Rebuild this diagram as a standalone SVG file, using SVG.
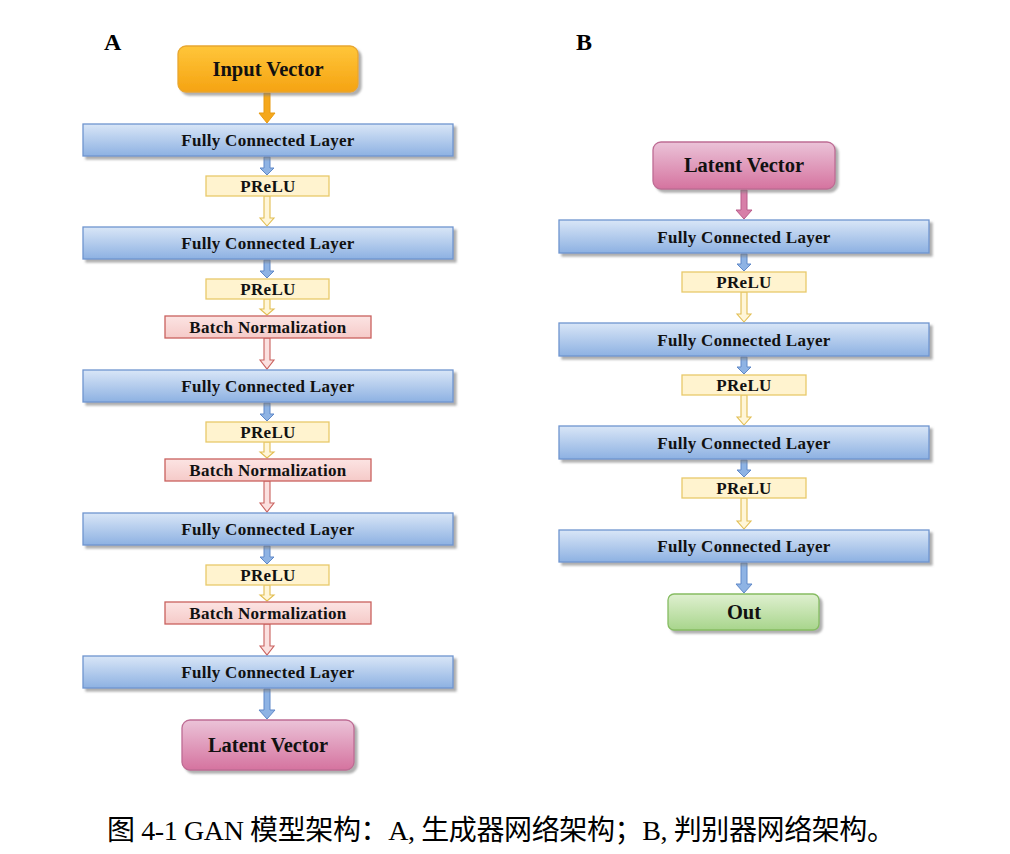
<svg xmlns="http://www.w3.org/2000/svg" width="1010" height="854" viewBox="0 0 1010 854">
<defs>
<linearGradient id="gBlue" x1="0" y1="0" x2="0" y2="1"><stop offset="0" stop-color="#D9E6F7"/><stop offset="1" stop-color="#8DB1E2"/></linearGradient>
<linearGradient id="gOrange" x1="0" y1="0" x2="0" y2="1"><stop offset="0" stop-color="#FFC63A"/><stop offset="1" stop-color="#F5A312"/></linearGradient>
<linearGradient id="gPink" x1="0" y1="0" x2="0" y2="1"><stop offset="0" stop-color="#EBC3D8"/><stop offset="1" stop-color="#D5739F"/></linearGradient>
<linearGradient id="gGreen" x1="0" y1="0" x2="0" y2="1"><stop offset="0" stop-color="#DFF0D0"/><stop offset="1" stop-color="#A8D58C"/></linearGradient>
<linearGradient id="gRed" x1="0" y1="0" x2="0" y2="1"><stop offset="0" stop-color="#FCE4E3"/><stop offset="1" stop-color="#F5CAC8"/></linearGradient>
<filter id="sh" x="-10%" y="-20%" width="120%" height="150%"><feDropShadow dx="3" dy="3" stdDeviation="1.2" flood-color="#7a7a7a" flood-opacity="0.6"/></filter>
</defs>
<style>
.t{font-family:"Liberation Serif","Times New Roman",serif;font-weight:bold;fill:#111;text-anchor:middle;}
.s{font-size:17px;letter-spacing:0.3px;}
.b{font-size:20.5px;}
.fc{fill:url(#gBlue);stroke:#6F95CF;stroke-width:1.3;filter:url(#sh);}
.pr{fill:#FFF3CF;stroke:#E8C96A;stroke-width:1.3;}
.bn{fill:url(#gRed);stroke:#C9615E;stroke-width:1.3;}
.inp{fill:url(#gOrange);stroke:#E8A730;stroke-width:1.3;filter:url(#sh);}
.lat{fill:url(#gPink);stroke:#BE6C94;stroke-width:1.3;filter:url(#sh);}
.out{fill:url(#gGreen);stroke:#86BC62;stroke-width:1.3;filter:url(#sh);}
.aB{fill:#8EB3E4;stroke:#5F88C8;stroke-width:1;}
.aY{fill:#FFF6D8;stroke:#E2BE52;stroke-width:1.1;}
.aR{fill:#FBE0DF;stroke:#C9615E;stroke-width:1.1;}
.aO{fill:#F5A81C;stroke:#E89A10;stroke-width:1;}
.aP{fill:#D77FA8;stroke:#B95C8A;stroke-width:1;}
.lab{font-family:"Liberation Serif","Times New Roman",serif;font-weight:bold;font-size:24px;fill:#000;}
.cap{font-family:"Liberation Serif","Noto Sans CJK SC",serif;font-size:28px;fill:#000;}
</style>

<text class="lab" x="104" y="50">A</text>
<text class="lab" x="576" y="50">B</text>

<g id="connectors">
<polygon class="aO" points="264,93 270,93 270,113 275,113 267,123 259,113 264,113"/>
<polygon class="aB" points="264,157 270,157 270,168 274,168 267,175 260,168 264,168"/>
<polygon class="aY" points="264,196 270,196 270,218 274,218 267,226 260,218 264,218"/>
<polygon class="aB" points="264,260 270,260 270,271 274,271 267,278 260,271 264,271"/>
<polygon class="aY" points="264,299 270,299 270,309 274,309 267,315 260,309 264,309"/>
<polygon class="aR" points="264,338 270,338 270,360 274,360 267,369 260,360 264,360"/>
<polygon class="aB" points="264,403 270,403 270,414 274,414 267,421 260,414 264,414"/>
<polygon class="aY" points="264,442 270,442 270,452 274,452 267,458 260,452 264,452"/>
<polygon class="aR" points="264,481 270,481 270,503 274,503 267,512 260,503 264,503"/>
<polygon class="aB" points="264,546 270,546 270,557 274,557 267,564 260,557 264,557"/>
<polygon class="aY" points="264,585 270,585 270,595 274,595 267,601 260,595 264,595"/>
<polygon class="aR" points="264,624 270,624 270,646 274,646 267,655 260,646 264,646"/>
<polygon class="aB" points="264,689 270,689 270,710 275,710 267,719 259,710 264,710"/>

<polygon class="aP" points="741,190 747,190 747,210 752,210 744,219 736,210 741,210"/>
<polygon class="aB" points="741,254 747,254 747,264 751,264 744,271 737,264 741,264"/>
<polygon class="aY" points="741,292 747,292 747,314 751,314 744,322 737,314 741,314"/>
<polygon class="aB" points="741,357 747,357 747,367 751,367 744,374 737,367 741,367"/>
<polygon class="aY" points="741,395 747,395 747,417 751,417 744,425 737,417 741,417"/>
<polygon class="aB" points="741,460 747,460 747,470 751,470 744,477 737,470 741,470"/>
<polygon class="aY" points="741,498 747,498 747,521 751,521 744,529 737,521 741,521"/>
<polygon class="aB" points="741,563 747,563 747,584 752,584 744,593 736,584 741,584"/>
</g>

<g id="a-input"><rect class="inp" x="178" y="46" width="180" height="46" rx="8"/><text class="t b" x="268" y="76">Input Vector</text></g>
<g id="a-fc1"><rect class="fc" x="83" y="124" width="370" height="32"/><text class="t s" x="268" y="146">Fully Connected Layer</text></g>
<g id="a-prelu1"><rect class="pr" x="206" y="176" width="123" height="20"/><text class="t s" x="268" y="192">PReLU</text></g>
<g id="a-fc2"><rect class="fc" x="83" y="227" width="370" height="32"/><text class="t s" x="268" y="249">Fully Connected Layer</text></g>
<g id="a-prelu2"><rect class="pr" x="206" y="279" width="123" height="20"/><text class="t s" x="268" y="295">PReLU</text></g>
<g id="a-bn1"><rect class="bn" x="165" y="316" width="206" height="22"/><text class="t s" x="268" y="333">Batch Normalization</text></g>
<g id="a-fc3"><rect class="fc" x="83" y="370" width="370" height="32"/><text class="t s" x="268" y="392">Fully Connected Layer</text></g>
<g id="a-prelu3"><rect class="pr" x="206" y="422" width="123" height="20"/><text class="t s" x="268" y="438">PReLU</text></g>
<g id="a-bn2"><rect class="bn" x="165" y="459" width="206" height="22"/><text class="t s" x="268" y="476">Batch Normalization</text></g>
<g id="a-fc4"><rect class="fc" x="83" y="513" width="370" height="32"/><text class="t s" x="268" y="535">Fully Connected Layer</text></g>
<g id="a-prelu4"><rect class="pr" x="206" y="565" width="123" height="20"/><text class="t s" x="268" y="581">PReLU</text></g>
<g id="a-bn3"><rect class="bn" x="165" y="602" width="206" height="22"/><text class="t s" x="268" y="619">Batch Normalization</text></g>
<g id="a-fc5"><rect class="fc" x="83" y="656" width="370" height="32"/><text class="t s" x="268" y="678">Fully Connected Layer</text></g>
<g id="a-latent"><rect class="lat" x="182" y="720" width="172" height="50" rx="8"/><text class="t b" x="268" y="752">Latent Vector</text></g>

<g id="b-latent"><rect class="lat" x="653" y="142" width="182" height="47" rx="8"/><text class="t b" x="744" y="172">Latent Vector</text></g>
<g id="b-fc1"><rect class="fc" x="559" y="220" width="370" height="33"/><text class="t s" x="744" y="243">Fully Connected Layer</text></g>
<g id="b-prelu1"><rect class="pr" x="682" y="272" width="124" height="20"/><text class="t s" x="744" y="288">PReLU</text></g>
<g id="b-fc2"><rect class="fc" x="559" y="323" width="370" height="33"/><text class="t s" x="744" y="346">Fully Connected Layer</text></g>
<g id="b-prelu2"><rect class="pr" x="682" y="375" width="124" height="20"/><text class="t s" x="744" y="391">PReLU</text></g>
<g id="b-fc3"><rect class="fc" x="559" y="426" width="370" height="33"/><text class="t s" x="744" y="449">Fully Connected Layer</text></g>
<g id="b-prelu3"><rect class="pr" x="682" y="478" width="124" height="20"/><text class="t s" x="744" y="494">PReLU</text></g>
<g id="b-fc4"><rect class="fc" x="559" y="530" width="370" height="32"/><text class="t s" x="744" y="552">Fully Connected Layer</text></g>
<g id="b-out"><rect class="out" x="668" y="594" width="151" height="36" rx="6"/><text class="t b" x="744" y="619">Out</text></g>

<text class="cap" x="107" y="840" textLength="788" lengthAdjust="spacing">图 4-1 GAN 模型架构：A, 生成器网络架构；B, 判别器网络架构。</text>
</svg>
